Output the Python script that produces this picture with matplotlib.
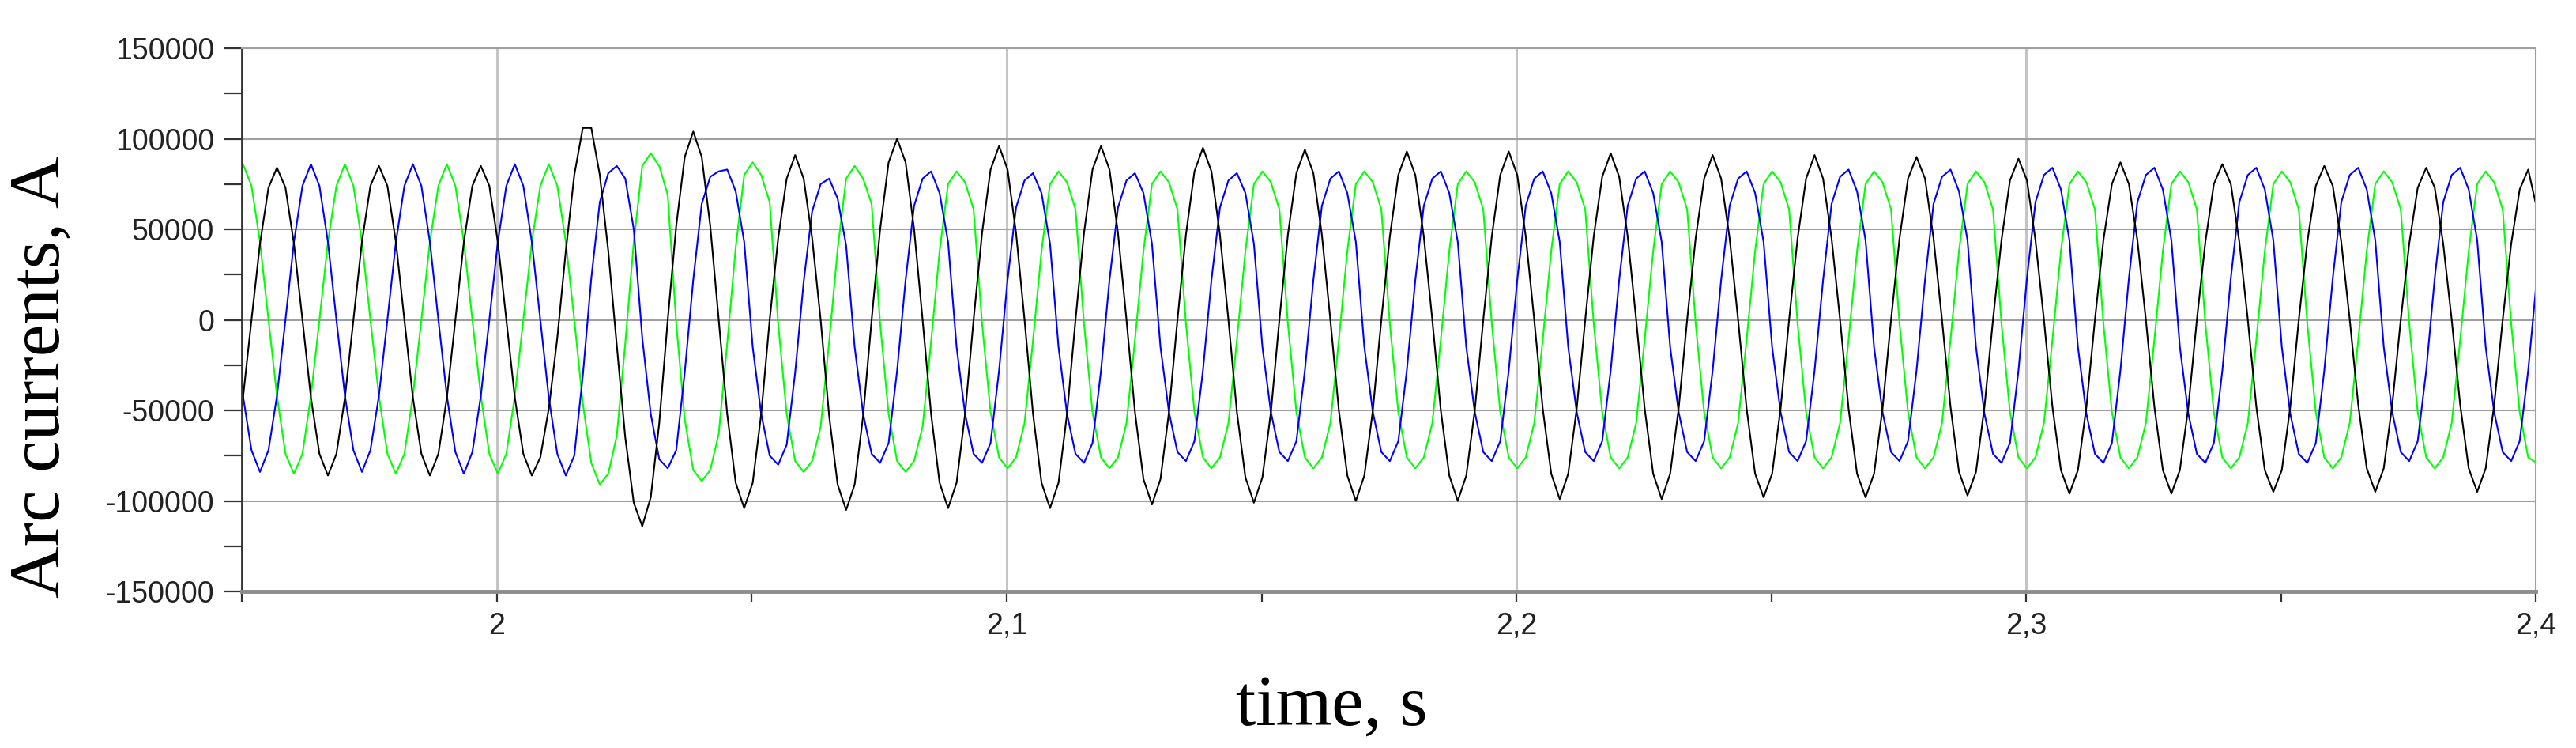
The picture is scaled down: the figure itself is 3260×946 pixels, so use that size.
import numpy as np
import matplotlib.pyplot as plt
from matplotlib.ticker import MultipleLocator, FixedLocator, FixedFormatter, StrMethodFormatter

plt.rcParams['font.family'] = ['Liberation Sans', 'DejaVu Sans']
plt.rcParams['axes.unicode_minus'] = False

# arc currents every 1/600 s (30 deg of the 50 Hz wave), kA
t_start = 1.9485
t_step = 1 / 600

black_ka = [
    -74, -43, 0, 42, 73, 84, 73, 42, 0, -43, -74, -86,
    -74, -43, 0, 43, 74, 85, 74, 43, 0, -43, -74, -86,
    -74, -43, 0, 43, 74, 85, 74, 43, 0, -43, -74, -86,
    -76, -49, -10, 38, 80, 106, 106, 80, 38, -14, -65, -101,
    -114, -98, -57, 0, 52, 90, 104, 90, 52, 0, -52, -90,
    -104, -90, -52, 0, 45, 78, 91, 78, 45, 0, -53, -91,
    -105, -91, -53, 0, 50, 87, 100, 87, 50, 0, -52, -90,
    -104, -90, -52, 0, 48, 83, 96, 83, 48, 0, -52, -90,
    -104, -90, -52, 0, 48, 83, 96, 83, 48, 0, -51, -88,
    -102, -88, -51, 0, 47, 82, 95, 82, 47, 0, -51, -87,
    -101, -87, -51, 0, 47, 81, 94, 81, 47, 0, -50, -86,
    -100, -86, -50, 0, 46, 80, 93, 80, 46, 0, -50, -86,
    -100, -86, -50, 0, 46, 80, 93, 80, 46, 0, -49, -85,
    -99, -85, -49, 0, 46, 79, 92, 79, 46, 0, -49, -85,
    -99, -85, -49, 0, 45, 78, 91, 78, 45, 0, -49, -85,
    -98, -85, -49, 0, 45, 78, 91, 78, 45, 0, -49, -85,
    -98, -85, -49, 0, 45, 78, 90, 78, 45, 0, -48, -84,
    -97, -84, -48, 0, 44, 77, 89, 77, 44, 0, -48, -83,
    -96, -83, -48, 0, 44, 75, 87, 75, 44, 0, -48, -83,
    -96, -83, -48, 0, 43, 75, 86, 75, 43, 0, -48, -83,
    -95, -83, -48, 0, 43, 74, 85, 74, 43, 0, -47, -82,
    -95, -82, -47, 0, 42, 73, 84, 73, 42, 0, -47, -82,
    -95, -82, -47, 0, 42, 72, 83, 62,
]

blue_ka = [
    0, -42, -72, -84, -72, -42, 0, 43, 74, 86, 74, 43,
    0, -42, -72, -84, -72, -42, 0, 43, 74, 86, 74, 43,
    0, -42, -73, -85, -73, -42, 0, 43, 74, 86, 74, 43,
    0, -43, -74, -86, -75, -31, 23, 65, 81, 85, 78, 50,
    -10, -52, -77, -82, -72, -29, 22, 64, 79, 82, 83, 71,
    43, -15, -52, -75, -80, -69, -29, 21, 60, 75, 78, 67,
    41, -15, -52, -74, -79, -68, -28, 22, 63, 78, 82, 70,
    43, -15, -52, -74, -79, -68, -28, 22, 62, 77, 81, 70,
    42, -15, -52, -74, -79, -68, -28, 22, 62, 77, 81, 70,
    42, -15, -51, -73, -78, -67, -28, 22, 62, 77, 81, 70,
    42, -15, -51, -73, -78, -67, -28, 22, 63, 78, 82, 70,
    43, -15, -51, -73, -78, -67, -28, 22, 63, 78, 82, 70,
    43, -15, -51, -73, -78, -67, -28, 22, 63, 78, 82, 70,
    43, -15, -51, -73, -78, -67, -28, 22, 63, 78, 82, 70,
    43, -15, -51, -73, -78, -67, -28, 22, 63, 78, 82, 70,
    43, -15, -51, -73, -78, -67, -28, 22, 64, 79, 83, 71,
    44, -15, -51, -73, -78, -67, -28, 22, 64, 79, 83, 71,
    44, -15, -52, -74, -79, -68, -28, 23, 65, 80, 84, 72,
    44, -15, -52, -74, -79, -68, -28, 23, 65, 80, 84, 72,
    44, -15, -52, -74, -79, -68, -28, 23, 65, 80, 84, 72,
    44, -15, -52, -74, -79, -68, -28, 23, 65, 80, 84, 72,
    44, -15, -51, -73, -78, -67, -28, 23, 65, 80, 84, 72,
    44, -15, -51, -73, -78, -67, -28, 22,
]

green_ka = [
    74, 86, 74, 43, 0, -42, -74, -85, -74, -42, 0, 43,
    74, 86, 74, 43, 0, -42, -74, -85, -74, -42, 0, 43,
    74, 86, 74, 43, 0, -42, -74, -85, -74, -42, 0, 43,
    74, 86, 74, 43, 0, -46, -79, -91, -85, -64, -13, 43,
    85, 92, 85, 69, -2, -55, -83, -89, -83, -63, -13, 40,
    80, 87, 80, 65, -2, -52, -78, -84, -78, -59, -12, 39,
    78, 85, 78, 64, -2, -52, -78, -84, -78, -59, -12, 38,
    75, 82, 76, 61, -2, -51, -76, -82, -76, -57, -11, 38,
    75, 82, 76, 61, -2, -51, -76, -82, -76, -57, -11, 38,
    75, 82, 76, 61, -2, -51, -76, -82, -76, -57, -11, 38,
    75, 82, 76, 61, -2, -51, -76, -82, -76, -57, -11, 38,
    75, 82, 76, 61, -2, -51, -76, -82, -76, -57, -11, 38,
    75, 82, 76, 61, -2, -51, -76, -82, -76, -57, -11, 38,
    75, 82, 76, 61, -2, -51, -76, -82, -76, -57, -11, 38,
    75, 82, 76, 61, -2, -51, -76, -82, -76, -57, -11, 38,
    75, 82, 76, 61, -2, -51, -76, -82, -76, -57, -11, 38,
    75, 82, 76, 61, -2, -51, -76, -82, -76, -57, -11, 38,
    75, 82, 76, 61, -2, -51, -76, -82, -76, -57, -11, 38,
    75, 82, 76, 61, -2, -51, -76, -82, -76, -57, -11, 38,
    75, 82, 76, 61, -2, -51, -76, -82, -76, -57, -11, 38,
    75, 82, 76, 61, -2, -51, -76, -82, -76, -57, -11, 38,
    75, 82, 76, 61, -2, -51, -76, -82, -76, -57, -11, 38,
    75, 82, 76, 61, -2, -51, -76, -79,
]

xtick_vals = [2.0, 2.1, 2.2, 2.3, 2.4]
xtick_labels = ['2', '2,1', '2,2', '2,3', '2,4']

t = t_start + t_step * np.arange(len(black_ka))

fig = plt.figure(figsize=(32.6, 9.46), dpi=100)
ax = fig.add_axes([0.094, 0.2093, 0.8904, 0.7262])

ax.plot(t, np.array(green_ka) * 1000, color='#00ff00', lw=1.5)
ax.plot(t, np.array(blue_ka) * 1000, color='#0000ff', lw=1.5)
ax.plot(t, np.array(black_ka) * 1000, color='#000000', lw=1.5)

ax.set_xlim(1.95, 2.4)
ax.set_ylim(-150000, 150000)

ax.xaxis.set_major_locator(FixedLocator(xtick_vals))
ax.xaxis.set_major_formatter(FixedFormatter(xtick_labels))
ax.xaxis.set_minor_locator(MultipleLocator(0.05))
ax.yaxis.set_major_locator(MultipleLocator(50000))
ax.yaxis.set_minor_locator(MultipleLocator(25000))
ax.yaxis.set_major_formatter(StrMethodFormatter('{x:.0f}'))

ax.set_axisbelow(True)
ax.grid(axis='y', which='major', color='#a0a0a0', lw=1.5)
ax.grid(axis='x', which='major', color='#c4c4c4', lw=2.2)

ax.tick_params(axis='y', which='both', direction='out', length=16.5, width=1.6,
               color='#333333', pad=9, labelsize=27, labelcolor='#222222')
ax.tick_params(axis='x', which='both', direction='out', length=9, width=1.6,
               color='#333333', pad=9.5, labelsize=27, labelcolor='#222222')

ax.spines['left'].set_color('#333333')
ax.spines['left'].set_linewidth(2)
ax.spines['right'].set_color('#a0a0a0')
ax.spines['right'].set_linewidth(1.5)
ax.spines['top'].set_color('#a0a0a0')
ax.spines['top'].set_linewidth(1.5)
ax.spines['bottom'].set_color('#8c8c8c')
ax.spines['bottom'].set_linewidth(3.5)

fig.text(75 / 3260, 0.4963, 'Arc currents, A', rotation=90, ha='center', va='baseline',
         rotation_mode='anchor', fontsize=65.5, family='Liberation Serif')
fig.text(0.5169, 0.0307, 'time, s', ha='center', va='baseline',
         fontsize=65.5, family='Liberation Serif')

fig.savefig('out.png', dpi=100)
